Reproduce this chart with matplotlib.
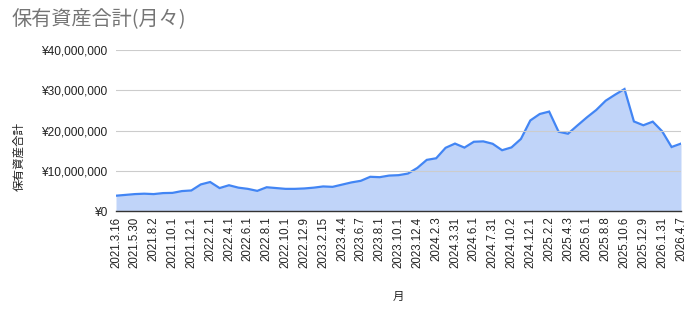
import matplotlib
matplotlib.use("Agg")
import matplotlib.pyplot as plt
import numpy as np
from matplotlib.ticker import FuncFormatter, MultipleLocator

plt.rcParams["font.family"] = ["Liberation Sans", "Noto Sans CJK JP", "DejaVu Sans"]

# labels shown on the x axis (every second data point)
tick_labels = [
    "2021.3.16", "2021.5.30", "2021.8.2", "2021.10.1", "2021.12.1",
    "2022.2.1", "2022.4.1", "2022.6.1", "2022.8.1", "2022.10.1",
    "2022.12.9", "2023.2.15", "2023.4.4", "2023.6.7", "2023.8.1",
    "2023.10.1", "2023.12.4", "2024.2.3", "2024.3.31", "2024.6.1",
    "2024.7.31", "2024.10.2", "2024.12.1", "2025.2.2", "2025.4.3",
    "2025.6.1", "2025.8.8", "2025.10.6", "2025.12.9", "2026.1.31",
    "2026.4.7",
]

# monthly totals in yen (millions)
assets_m = [
    3.8, 4.0, 4.2, 4.3, 4.2, 4.45, 4.5, 4.95, 5.1, 6.6,
    7.2, 5.7, 6.4, 5.8, 5.5, 5.0, 5.9, 5.7, 5.5, 5.5,
    5.6, 5.8, 6.1, 6.0, 6.55, 7.1, 7.5, 8.5, 8.4, 8.8,
    8.9, 9.3, 10.7, 12.7, 13.1, 15.7, 16.75, 15.75, 17.2, 17.3,
    16.7, 15.1, 15.8, 17.9, 22.5, 24.1, 24.7, 19.7, 19.2, 21.25,
    23.25, 25.1, 27.4, 28.9, 30.3, 22.25, 21.3, 22.2, 19.8, 15.9,
    16.75,
]

values = np.array(assets_m) * 1e6
x = np.arange(len(values))

fig = plt.figure(figsize=(6.95, 3.12), dpi=100)
ax = fig.add_axes([116 / 695, 1 - 211 / 312, 565 / 695, 161 / 312])

line_color = "#4285f4"
ax.fill_between(x, values, 0, color="#c0d4f9", lw=0)
ax.plot(x, values, color=line_color, lw=1.6, solid_joinstyle="miter")

ax.set_xlim(0, len(values) - 1)
ax.set_ylim(0, 40e6)
ax.yaxis.set_major_locator(MultipleLocator(10e6))
ax.yaxis.set_major_formatter(FuncFormatter(lambda v, _: f"¥{int(v):,}"))
ax.grid(axis="y", color="#cccccc", lw=0.8)
ax.set_axisbelow(False)
for s in ["top", "right", "left"]:
    ax.spines[s].set_visible(False)
ax.spines["bottom"].set_color("#333333")
ax.spines["bottom"].set_linewidth(1.0)
ax.spines["bottom"].set_zorder(5)

ax.set_xticks(x[::2])
ax.set_xticklabels(tick_labels, rotation=90, fontsize=8.3, color="#222222")
ax.tick_params(axis="both", length=0, colors="#222222")
ax.tick_params(axis="y", labelsize=8.6, pad=6)
ax.tick_params(axis="x", pad=4)

ax.set_ylabel("保有資産合計", fontsize=8.3, color="#222222",
              family=["Noto Sans CJK JP", "DejaVu Sans"])
ax.yaxis.set_label_coords(-0.16, 0.34)
fig.text(398 / 695, 1 - 296 / 312, "月", fontsize=8.3, color="#222222",
         family=["Noto Sans CJK JP", "DejaVu Sans"], ha="center", va="center")

fig.text(12 / 695, 1 - 20 / 312, "保有資産合計(月々)", fontsize=14.5, color="#757575",
         family=["Noto Sans CJK JP", "DejaVu Sans"], ha="left", va="center")

fig.savefig("out.png", dpi=100)
